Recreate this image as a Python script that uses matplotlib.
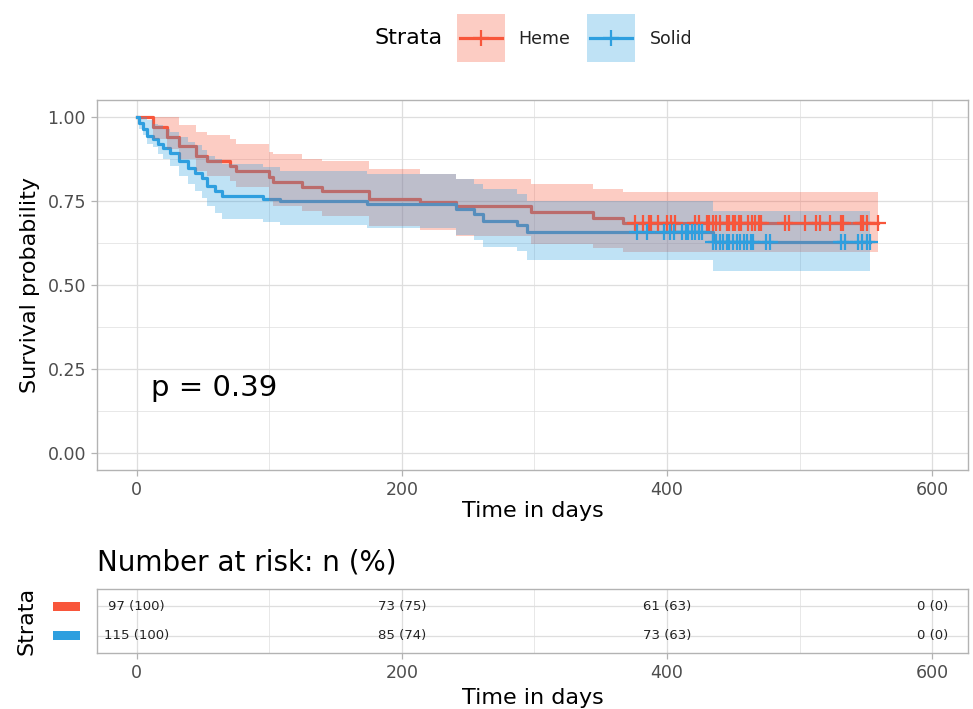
import numpy as np
import matplotlib
matplotlib.use("Agg")
import matplotlib.pyplot as plt
import matplotlib.transforms as mtransforms
from matplotlib.patches import Rectangle
from matplotlib.lines import Line2D

plt.rcParams['font.family'] = ['DejaVu Sans']

# ---------------- data ----------------
strata = ['Heme', 'Solid']

heme_time = [0, 12, 23, 32, 45, 53, 70, 75, 100, 103, 125, 140, 175, 214, 241, 297, 344, 367]
heme_surv = [1.0, 0.969, 0.939, 0.914, 0.884, 0.869, 0.855, 0.840, 0.822, 0.805, 0.790, 0.780,
             0.757, 0.746, 0.736, 0.716, 0.700, 0.684]
heme_upper = [1.0, 1.0, 1.0, 0.975, 0.955, 0.945, 0.935, 0.920, 0.895, 0.890, 0.875, 0.870,
              0.845, 0.831, 0.816, 0.800, 0.786, 0.776]
heme_lower = [1.0, 0.935, 0.905, 0.875, 0.840, 0.825, 0.810, 0.790, 0.750, 0.735, 0.720, 0.706,
              0.675, 0.665, 0.645, 0.623, 0.611, 0.597]
heme_last = 559
heme_censor = [376, 382, 386, 388, 393, 400, 403, 406, 421, 424, 430, 432, 435, 437, 440, 445,
               447, 450, 451, 454, 456, 461, 464, 466, 469, 471, 489, 492, 504, 512, 515, 523,
               531, 533, 546, 548, 551, 559]

solid_time = [0, 2, 5, 8, 12, 16, 20, 25, 32, 39, 44, 49, 53, 59, 64, 95, 108, 174, 241, 254,
              261, 287, 294, 435]
solid_surv = [1.0, 0.982, 0.964, 0.944, 0.935, 0.920, 0.908, 0.893, 0.869, 0.849, 0.834, 0.819,
              0.795, 0.780, 0.766, 0.757, 0.750, 0.742, 0.727, 0.712, 0.690, 0.677, 0.657, 0.627]
solid_upper = [1.0, 1.0, 1.0, 0.990, 0.980, 0.975, 0.965, 0.955, 0.940, 0.925, 0.915, 0.900,
               0.885, 0.875, 0.860, 0.850, 0.838, 0.830, 0.815, 0.800, 0.785, 0.770, 0.750, 0.720]
solid_lower = [1.0, 0.965, 0.945, 0.920, 0.910, 0.890, 0.875, 0.855, 0.825, 0.800, 0.780, 0.760,
               0.735, 0.715, 0.697, 0.686, 0.677, 0.668, 0.650, 0.635, 0.612, 0.600, 0.573, 0.543]
solid_last = 553
solid_censor = [377, 385, 398, 402, 405, 411, 414, 416, 419, 421, 424, 426, 435, 437, 440, 442,
                445, 447, 450, 453, 455, 458, 460, 463, 465, 475, 478, 531, 534, 544, 547, 551, 553]

pval_text = 'p = 0.39'

risk_times = [0, 200, 400, 600]
heme_n = [97, 73, 61, 0]
heme_pct = [100, 75, 63, 0]
solid_n = [115, 85, 73, 0]
solid_pct = [100, 74, 63, 0]

# ---------------- style ----------------
RED = '#F8563B'
BLUE = '#2E9FDF'
GRID = '#DEDEDE'
BORDER = '#B3B3B3'
TICKLAB = '#4D4D4D'

W, H = 973, 709
fig = plt.figure(figsize=(W / 100, H / 100), dpi=100)


def fr(l, t, r, b):
    return [l / W, 1 - b / H, (r - l) / W, (b - t) / H]


ax = fig.add_axes(fr(97, 100, 968, 470))
tab = fig.add_axes(fr(97, 589, 968, 653))


def style_axes(a):
    for s in a.spines.values():
        s.set_color(BORDER)
        s.set_linewidth(1.0)
    a.set_xlim(-30, 627)
    a.set_xticks([0, 200, 400, 600])
    a.set_xticks([100, 300, 500], minor=True)
    a.grid(True, which='major', color=GRID, lw=0.9, zorder=0)
    a.grid(True, which='minor', color=GRID, lw=0.5, zorder=0)
    a.set_axisbelow(True)
    a.tick_params(which='major', color=BORDER, length=4, width=0.9,
                  labelcolor=TICKLAB, labelsize=12.5, pad=4)
    a.tick_params(which='minor', length=0)


style_axes(ax)
style_axes(tab)

# ---------------- survival curves ----------------
curves = [
    (heme_time, heme_surv, heme_lower, heme_upper, heme_last, heme_censor, RED),
    (solid_time, solid_surv, solid_lower, solid_upper, solid_last, solid_censor, BLUE),
]

for times, surv, lo, up, last, cens, col in curves:
    xs = list(times) + [last]
    ax.step(xs, list(surv) + [surv[-1]], where='post', color=col, lw=2.3, zorder=2)

for times, surv, lo, up, last, cens, col in curves:
    xs = list(times) + [last]
    ax.fill_between(xs, list(lo) + [lo[-1]], list(up) + [up[-1]], step='post',
                    color=col, alpha=0.3, lw=0, zorder=3)

for times, surv, lo, up, last, cens, col in curves:
    idx = np.searchsorted(times, cens, side='right') - 1
    cy = np.asarray(surv)[idx]
    ax.plot(cens, cy, ls='none', marker='+', ms=12, mew=1.6, color=col, zorder=5)

ax.set_ylim(-0.05, 1.05)
ax.set_yticks([0, 0.25, 0.5, 0.75, 1.0])
ax.set_yticklabels(['0.00', '0.25', '0.50', '0.75', '1.00'])
ax.set_yticks([0.125, 0.375, 0.625, 0.875], minor=True)
ax.set_xlabel('Time in days', fontsize=16)
ax.set_ylabel('Survival probability', fontsize=16)
ax.xaxis.set_label_coords(0.5, -0.085)
ax.yaxis.set_label_coords(-0.066, 0.5)
ax.text(11, 0.195, pval_text, fontsize=21, ha='left', va='center')

# ---------------- legend (drawn by hand, figure pixel layout) ----------------
def px(x, y):
    return x / W, 1 - y / H


fig.text(*px(443, 38), 'Strata', ha='right', va='center', fontsize=16)
key_left = [457, 587]
text_left = [518, 650]
for lab, col, kl, tl in zip(strata, [RED, BLUE], key_left, text_left):
    x0, y0 = px(kl, 62)
    fig.patches.append(Rectangle((x0, y0), 48 / W, 48 / H, transform=fig.transFigure,
                                 facecolor=col, alpha=0.3, edgecolor='none'))
    xa, ya = px(kl + 3, 38)
    xb, _ = px(kl + 45, 38)
    xm, _ = px(kl + 24, 38)
    fig.lines.append(Line2D([xa, xb], [ya, ya], transform=fig.transFigure,
                            color=col, lw=2.3))
    fig.lines.append(Line2D([xm], [ya], transform=fig.transFigure, color=col,
                            marker='+', ms=12, mew=1.6, ls='none'))
    fig.text(*px(tl, 39), lab, ha='left', va='center', fontsize=12.5, color='#222222')

# ---------------- risk table ----------------
tab.set_ylim(0.4, 2.6)
tab.set_yticks([1, 2])
tab.set_yticklabels(['', ''])
tab.tick_params(axis='y', length=0)
tab.grid(True, axis='y', which='major', color=GRID, lw=0.9)
rows = [(2, heme_n, heme_pct, RED), (1, solid_n, solid_pct, BLUE)]
blend = mtransforms.blended_transform_factory(tab.transAxes, tab.transData)
for row, ns, pcts, col in rows:
    for t, n, p in zip(risk_times, ns, pcts):
        tab.text(t, row, f'{n} ({p})', ha='center', va='center', fontsize=9.5,
                 color='#222222')
    tab.add_patch(Rectangle((-0.0505, row - 0.16), 0.031, 0.32, transform=blend,
                            facecolor=col, edgecolor='none', clip_on=False))
tab.set_xlabel('Time in days', fontsize=16)
tab.xaxis.set_label_coords(0.5, -0.55)
tab.set_ylabel('Strata', fontsize=16)
tab.yaxis.set_label_coords(-0.07, 0.5)
fig.text(*px(97, 563), 'Number at risk: n (%)', ha='left', va='center', fontsize=20)

fig.savefig('out.png', dpi=100)
